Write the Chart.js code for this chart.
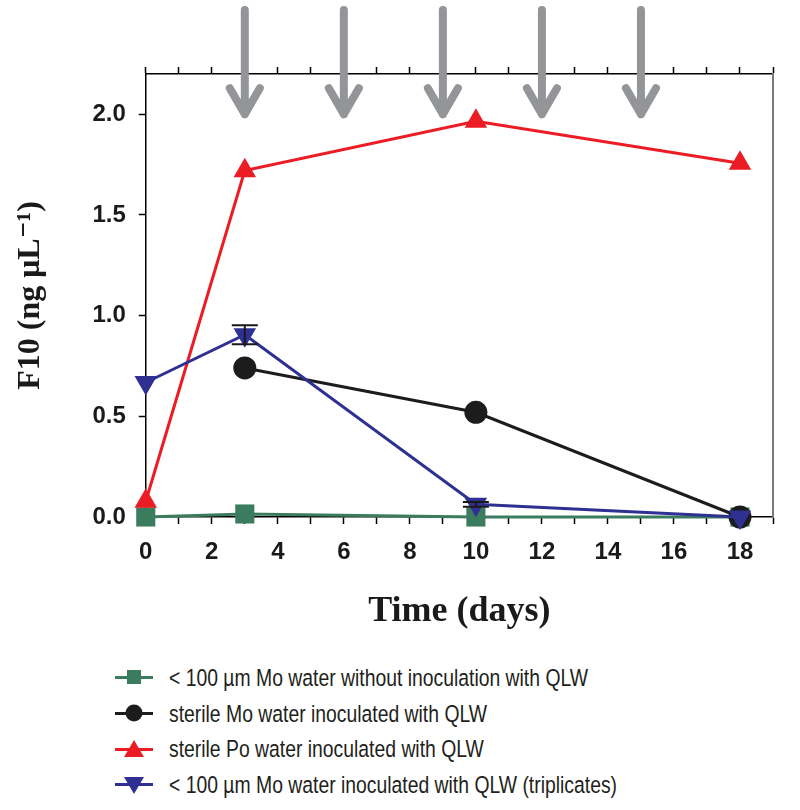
<!DOCTYPE html>
<html>
<head>
<meta charset="utf-8">
<script src="https://cdn.jsdelivr.net/npm/chart.js@4"></script>
<style>
  body { margin: 0; background: #fff; width: 800px; height: 810px; position: relative; overflow: hidden; }
  #wrap { position: absolute; left: 0; top: 0; width: 800px; height: 650px; }
  #legend { position: absolute; left: 112px; top: 660px; color: #231f20;
    font-family: "Liberation Sans", Arial, sans-serif; font-size: 24.5px; }
  .row { height: 35.7px; display: flex; align-items: center; white-space: nowrap; }
  .row svg { margin-right: 13px; flex: none; }
  .row span { display: inline-block; transform: scaleX(0.79); transform-origin: left center; }
</style>
</head>
<body>
<div id="wrap"><canvas id="myChart" width="800" height="650"></canvas></div>
<div id="legend"></div>
<script>
// days on the x axis
var days = [0, 3, 10, 18];

// F10 (ng/uL) per series
var greenVals = [0.0, 0.015, 0.0, 0.0];
var blackVals = [null, 0.74, 0.52, 0.0];
var redVals = [0.078, 1.72, 1.965, 1.757];
var blueVals = [0.668, 0.905, 0.063, 0.0];
var blueErr = [0, 0.047, 0.012, 0];

// days where the arrows point (additions)
var arrowDays = [3, 6, 9, 12, 15];
var arrowTip = 2.0;

var yTicks = [0, 0.5, 1.0, 1.5, 2.0];

var names = [
  '< 100 µm Mo water without inoculation with QLW',
  'sterile Mo water inoculated with QLW',
  'sterile Po water inoculated with QLW',
  '< 100 µm Mo water inoculated with QLW (triplicates)'
];

var GREEN = '#3c7c5e', BLACK = '#1c1c1c', RED = '#ec1c24', BLUE = '#2e3192', GREY = '#939598';

function pts(vals) {
  var out = [];
  for (var i = 0; i < days.length; i++) {
    if (vals[i] !== null) out.push({ x: days[i], y: vals[i] });
  }
  return out;
}

function series(label, vals, color, style, radius, rot, order) {
  return {
    label: label,
    data: pts(vals),
    borderColor: color,
    backgroundColor: color,
    pointBackgroundColor: color,
    pointBorderColor: color,
    pointBorderWidth: 0,
    borderWidth: 3,
    pointStyle: style,
    pointRadius: radius,
    pointHoverRadius: radius,
    pointRotation: rot,
    tension: 0,
    clip: false,
    order: order
  };
}

// error bars for the triplicates
var errorBars = {
  id: 'errorBars',
  afterDatasetsDraw: function (chart) {
    var x = chart.scales.x, y = chart.scales.y, c = chart.ctx;
    c.save();
    c.strokeStyle = '#1a1a1a';
    c.lineWidth = 2;
    for (var i = 0; i < days.length; i++) {
      if (!blueErr[i]) continue;
      var px = x.getPixelForValue(days[i]);
      var hi = y.getPixelForValue(blueVals[i] + blueErr[i]);
      var lo = y.getPixelForValue(blueVals[i] - blueErr[i]);
      c.beginPath();
      c.moveTo(px, hi); c.lineTo(px, lo);
      c.moveTo(px - 13, hi); c.lineTo(px + 13, hi);
      c.moveTo(px - 13, lo); c.lineTo(px + 13, lo);
      c.stroke();
    }
    c.restore();
  }
};

// grey arrows above the plot
var arrows = {
  id: 'arrows',
  afterDraw: function (chart) {
    var x = chart.scales.x, y = chart.scales.y, c = chart.ctx;
    var tipY = y.getPixelForValue(arrowTip);
    c.save();
    c.strokeStyle = GREY;
    c.lineWidth = 8;
    c.lineCap = 'round';
    c.lineJoin = 'round';
    arrowDays.forEach(function (d) {
      var px = x.getPixelForValue(d);
      c.beginPath();
      c.moveTo(px, 10); c.lineTo(px, tipY);
      c.moveTo(px - 15, tipY - 26); c.lineTo(px, tipY); c.lineTo(px + 15, tipY - 26);
      c.stroke();
    });
    c.restore();
  }
};

var tickFont = { family: 'Liberation Sans, Arial, sans-serif', size: 24, weight: 'bold' };
var serif = 'Liberation Serif, Times New Roman, DejaVu Serif, serif';

var ctx = document.getElementById('myChart').getContext('2d');
var myChart = new Chart(ctx, {
  type: 'line',
  data: {
    datasets: [
      series(names[0], greenVals, GREEN, 'rect', 13.5, 0, 3),
      series(names[1], blackVals, BLACK, 'circle', 11.5, 0, 2),
      series(names[2], redVals, RED, 'triangle', 13, 0, 1),
      series(names[3], blueVals, BLUE, 'triangle', 13, 180, 0)
    ]
  },
  options: {
    responsive: false,
    animation: false,
    events: [],
    layout: { padding: { left: 12, right: 27, top: 67, bottom: 17 } },
    plugins: { legend: { display: false }, tooltip: { enabled: false } },
    scales: {
      x: {
        type: 'linear', position: 'bottom', min: 0, max: 19,
        border: { color: '#000', width: 1.5 },
        grid: { drawOnChartArea: false, tickLength: 7, tickColor: '#000', tickWidth: 1.5 },
        ticks: {
          stepSize: 1, color: '#1a1a1a', font: tickFont, padding: 14, maxRotation: 0, autoSkip: false,
          callback: function (v) { return v % 2 === 0 && v <= 18 ? String(v) : ''; }
        },
        title: { display: true, text: 'Time (days)', color: '#1a1a1a',
          font: { family: serif, size: 36, weight: 'bold' }, padding: { top: 9, bottom: 0 } }
      },
      x2: {
        type: 'linear', position: 'top', min: 0, max: 19,
        border: { color: '#000', width: 1.5 },
        grid: { drawOnChartArea: false, tickLength: 7, tickColor: '#000', tickWidth: 1.5 },
        ticks: { stepSize: 1, display: false }
      },
      y: {
        type: 'linear', position: 'left', min: 0, max: 2.2,
        border: { color: '#000', width: 1.5 },
        grid: { drawOnChartArea: false, tickLength: 7, tickColor: '#000', tickWidth: 1.5 },
        afterBuildTicks: function (s) { s.ticks = yTicks.map(function (v) { return { value: v }; }); },
        ticks: {
          color: '#1a1a1a', font: tickFont, padding: 13,
          callback: function (v) { return Number(v).toFixed(1); }
        },
        title: { display: true, text: 'F10 (ng μL⁻¹)', color: '#1a1a1a',
          font: { family: serif, size: 32, weight: 'bold' }, padding: { top: 0, bottom: 29 } }
      },
      y2: {
        type: 'linear', position: 'right', min: 0, max: 2.2,
        border: { color: '#7a7a7a', width: 2 },
        grid: { display: false, drawTicks: false },
        ticks: { display: false }
      }
    }
  },
  plugins: [errorBars, arrows]
});

// legend below the chart: line - marker - line
var icons = [
  '<rect x="12" y="3" width="14" height="14" fill="' + GREEN + '"/>',
  '<circle cx="19" cy="10" r="8.5" fill="' + BLACK + '"/>',
  '<polygon points="19,1 29,18 9,18" fill="' + RED + '"/>',
  '<polygon points="9,3 29,3 19,20" fill="' + BLUE + '"/>'
];
var colors = [GREEN, BLACK, RED, BLUE];
var html = '';
for (var i = 0; i < names.length; i++) {
  html += '<div class="row"><svg width="44" height="21" viewBox="0 0 38 21">' +
    '<line x1="0" y1="10.5" x2="38" y2="10.5" stroke="' + colors[i] + '" stroke-width="3"/>' + icons[i] +
    '</svg><span>' + names[i].replace('<', '&lt;') + '</span></div>';
}
document.getElementById('legend').innerHTML = html;
</script>
</body>
</html>
